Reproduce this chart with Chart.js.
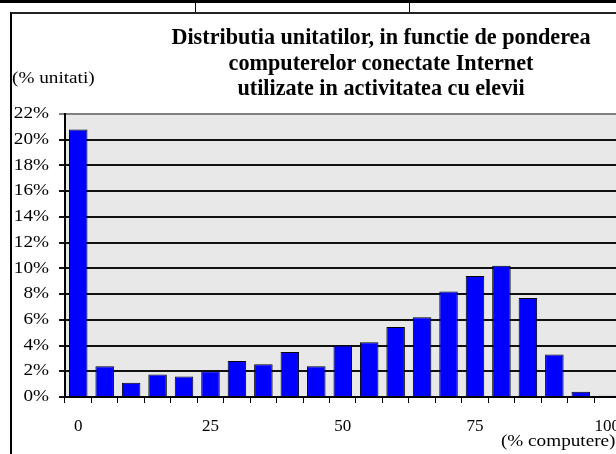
<!DOCTYPE HTML>
<html>
    <head>
        <meta charset="utf-8">
        <title>Distributia unitatilor</title>
        <script src="https://cdn.jsdelivr.net/npm/chart.js@4.4.1/dist/chart.umd.min.js"></script>
        <style>
            html, body {
                margin: 0;
                padding: 0;
                width: 616px;
                height: 454px;
                overflow: hidden;
                background: #fff;
                font-family: "Liberation Serif", "Times New Roman", serif;
                color: #000;
            }
            .topRule { position: absolute; left: 0; top: 0; width: 616px; height: 3px; background: #000; }
            .sep { position: absolute; top: 0; width: 1px; height: 12px; background: #000; }
            .frame { position: absolute; left: 10px; top: 12px; width: 620px; height: 450px;
                     border-left: 2px solid #000; border-top: 2px solid #222; }
            .chartContainer { position: absolute; left: 0; top: 0; width: 633px; height: 454px; }
            #title { position: absolute; left: 131px; width: 500px; top: 24px; text-align: center;
                     font-weight: bold; font-size: 22.2px; line-height: 25.5px; }
            .caption { position: absolute; font-size: 16px; white-space: nowrap; transform: scaleX(1.2); }
            #yCaption { left: 12px; top: 69px; transform-origin: left top; }
            #xCaption { right: 0; top: 432px; transform-origin: right top; }
        </style>
        <script>
            const categories = ['0', '5', '10', '15', '20', '25', '30', '35', '40', '45', '50',
                                '55', '60', '65', '70', '75', '80', '85', '90', '95', '100'];
            const unitShare = [20.8, 2.4, 1.1, 1.75, 1.6, 2.0, 2.8, 2.55, 3.5, 2.4, 4.0,
                               4.25, 5.45, 6.2, 8.2, 9.4, 10.2, 7.7, 3.3, 0.4, 0.1];
            const shownLabels = ['0', '25', '50', '75', '100'];
            const yMax = 22;
            const yStep = 2;

            const fontFamily = '"Liberation Serif", "Times New Roman", serif';

            const plotBackground = {
                id: 'plotBackground',
                beforeDraw(chart) {
                    const area = chart.chartArea;
                    const ctx = chart.ctx;
                    ctx.save();
                    ctx.fillStyle = '#e8e8e8';
                    ctx.fillRect(area.left, area.top, area.right - area.left, area.bottom - area.top);
                    ctx.restore();
                }
            };

            // the y labels in the original are drawn wide, stretch them from their right edge
            const wideYLabels = {
                id: 'wideYLabels',
                beforeDraw(chart) {
                    const scale = chart.scales.y;
                    if (scale._wide) {
                        return;
                    }
                    const drawLabels = scale.drawLabels.bind(scale);
                    scale.drawLabels = function(area) {
                        const ctx = chart.ctx;
                        const anchor = scale.right - scale.options.grid.tickLength - scale.options.ticks.padding;
                        ctx.save();
                        ctx.translate(anchor, 0);
                        ctx.scale(1.2, 1);
                        ctx.translate(-anchor, 0);
                        drawLabels(area);
                        ctx.restore();
                    };
                    scale._wide = true;
                }
            };

            window.addEventListener('DOMContentLoaded', () => {
                const canvas = document.getElementById('distribution').getContext('2d');
                new Chart(canvas, {
                    type: 'bar',
                    data: {
                        labels: categories,
                        datasets: [{
                            data: unitShare,
                            backgroundColor: '#0000ff',
                            borderColor: '#000',
                            borderWidth: 1,
                            barPercentage: 0.7,
                            categoryPercentage: 1.0
                        }]
                    },
                    options: {
                        animation: false,
                        responsive: true,
                        maintainAspectRatio: false,
                        layout: { padding: { top: 114, left: 0, right: 0, bottom: 0 } },
                        plugins: {
                            legend: { display: false },
                            tooltip: { enabled: false },
                            title: { display: false }
                        },
                        scales: {
                            x: {
                                offset: true,
                                grid: { offset: true, drawOnChartArea: false, color: '#000', lineWidth: 1, tickLength: 6 },
                                border: { color: '#000', width: 2 },
                                ticks: {
                                    autoSkip: false,
                                    maxRotation: 0,
                                    padding: 13,
                                    color: '#000',
                                    font: { family: fontFamily, size: 17 },
                                    callback: function(val, index) {
                                        return shownLabels.includes(categories[index]) ? categories[index] : '';
                                    }
                                },
                                afterFit: function(scale) { scale.height = 57; }
                            },
                            y: {
                                min: 0,
                                max: yMax,
                                grid: {
                                    color: (ctx) => ctx.tick && ctx.tick.value === yMax ? '#808080' : '#111',
                                    lineWidth: 2,
                                    tickLength: 6
                                },
                                border: { color: '#000', width: 2 },
                                ticks: {
                                    stepSize: yStep,
                                    padding: 10,
                                    color: '#000',
                                    font: { family: fontFamily, size: 16 },
                                    callback: function(val) { return val + '%'; }
                                },
                                afterFit: function(scale) { scale.width = 65; }
                            }
                        }
                    },
                    plugins: [plotBackground, wideYLabels]
                });
            });
        </script>
    </head>
    <body>
        <div class="topRule"></div>
        <div class="sep" style="left:195px"></div>
        <div class="sep" style="left:409px"></div>
        <div class="frame"></div>
        <div class="chartContainer">
            <canvas id="distribution"></canvas>
        </div>
        <div id="title">Distributia unitatilor, in functie de ponderea<br>computerelor conectate Internet<br>utilizate in activitatea cu elevii</div>
        <div id="yCaption" class="caption">(% unitati)</div>
        <div id="xCaption" class="caption">(% computere)</div>
    </body>
</html>
